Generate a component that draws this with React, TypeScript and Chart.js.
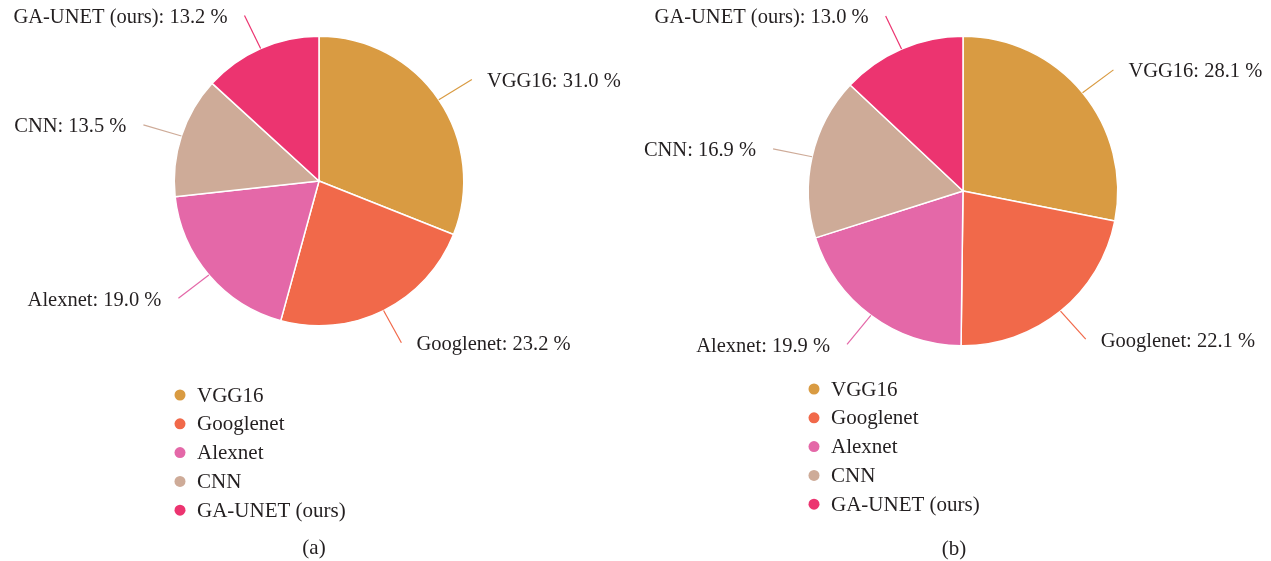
import React, { useEffect, useRef } from "react";
import { Chart, registerables } from "chart.js";

Chart.register(...registerables);

const categories = ["VGG16", "Googlenet", "Alexnet", "CNN", "GA-UNET (ours)"];
const valuesA = [31.0, 23.2, 19.0, 13.5, 13.2];
const valuesB = [28.1, 22.1, 19.9, 16.9, 13.0];
const sliceColors = ["#D99B42", "#F1694A", "#E468A8", "#CEAB98", "#EC3470"];
const captions = ["(a)", "(b)"];

const LABEL_FONT = '20.5px "Liberation Serif", "Times New Roman", serif';
const LEGEND_FONT = '21px "Liberation Serif", "Times New Roman", serif';
const TEXT_COLOR = "#231F20";

type PanelCfg = {
  values: number[];
  caption: string;
  width: number;
  padding: { left: number; top: number; right: number; bottom: number };
  legendX: number;
  legendY: number;
  legendStep: number;
  captionX: number;
  captionY: number;
};

const labelPlugin = {
  id: "outerLabels",
  afterDraw(chart: any) {
    const cfg = chart.options.plugins.outerLabels as PanelCfg;
    const ctx = chart.ctx;
    const meta = chart.getDatasetMeta(0);
    const ds = chart.data.datasets[0];
    ctx.save();
    ctx.font = LABEL_FONT;
    meta.data.forEach((arc: any, i: number) => {
      const { x, y, startAngle, endAngle, outerRadius } = arc.getProps(
        ["x", "y", "startAngle", "endAngle", "outerRadius"],
        true
      );
      const a = (startAngle + endAngle) / 2;
      const c = Math.cos(a);
      const s = Math.sin(a);
      const x0 = x + outerRadius * c;
      const y0 = y + outerRadius * s;
      const x1 = x + (outerRadius + 40) * c;
      const y1 = y + (outerRadius + 36) * s;
      ctx.strokeStyle = ds.backgroundColor[i];
      ctx.lineWidth = 1.2;
      ctx.beginPath();
      ctx.moveTo(x0, y0);
      ctx.lineTo(x1, y1);
      ctx.stroke();
      const txt = `${chart.data.labels[i]}: ${Number(ds.data[i]).toFixed(1)} %`;
      ctx.fillStyle = TEXT_COLOR;
      ctx.textBaseline = "middle";
      if (c >= 0) {
        ctx.textAlign = "left";
        ctx.fillText(txt, x1 + 15, y1 + 2);
      } else {
        ctx.textAlign = "right";
        ctx.fillText(txt, x1 - 17, y1 + 2);
      }
    });
    // legend
    ctx.font = LEGEND_FONT;
    chart.data.labels.forEach((lab: string, i: number) => {
      const ly = cfg.legendY + i * cfg.legendStep;
      ctx.fillStyle = ds.backgroundColor[i];
      ctx.beginPath();
      ctx.arc(cfg.legendX, ly, 5.5, 0, Math.PI * 2);
      ctx.fill();
      ctx.fillStyle = TEXT_COLOR;
      ctx.textAlign = "left";
      ctx.textBaseline = "middle";
      ctx.fillText(lab, cfg.legendX + 17, ly + 1);
    });
    // caption
    ctx.textAlign = "center";
    ctx.textBaseline = "middle";
    ctx.fillStyle = TEXT_COLOR;
    ctx.fillText(cfg.caption, cfg.captionX, cfg.captionY);
    ctx.restore();
  },
};

function PiePanel({ cfg, left }: { cfg: PanelCfg; left: number }) {
  const ref = useRef<HTMLCanvasElement | null>(null);
  useEffect(() => {
    if (!ref.current) return;
    const chart = new Chart(ref.current, {
      type: "pie",
      data: {
        labels: categories,
        datasets: [
          {
            data: cfg.values,
            backgroundColor: sliceColors,
            borderColor: "#FFFFFF",
            borderWidth: 1.5,
          },
        ],
      },
      options: {
        responsive: false,
        animation: false,
        layout: { padding: cfg.padding },
        plugins: {
          legend: { display: false },
          tooltip: { enabled: false },
          title: { display: false },
          outerLabels: cfg,
        } as any,
      },
      plugins: [labelPlugin],
    });
    return () => chart.destroy();
  }, [cfg]);
  return (
    <canvas
      ref={ref}
      width={cfg.width}
      height={561}
      style={{ position: "absolute", left, top: 0, width: cfg.width, height: 561 }}
    />
  );
}

const panelA: PanelCfg = {
  values: valuesA,
  caption: captions[0],
  width: 640,
  padding: { left: 173.5, top: 35.5, right: 175.5, bottom: 234.5 },
  legendX: 180,
  legendY: 395,
  legendStep: 28.8,
  captionX: 314,
  captionY: 548,
};

const panelB: PanelCfg = {
  values: valuesB,
  caption: captions[1],
  width: 631,
  padding: { left: 167.5, top: 35.5, right: 152.5, bottom: 214.5 },
  legendX: 174,
  legendY: 389,
  legendStep: 28.8,
  captionX: 314,
  captionY: 549,
};

export default function App() {
  return (
    <div
      style={{
        position: "fixed",
        left: 0,
        top: 0,
        width: 1271,
        height: 561,
        background: "#FFFFFF",
        overflow: "hidden",
      }}
    >
      <PiePanel cfg={panelA} left={0} />
      <PiePanel cfg={panelB} left={640} />
    </div>
  );
}
